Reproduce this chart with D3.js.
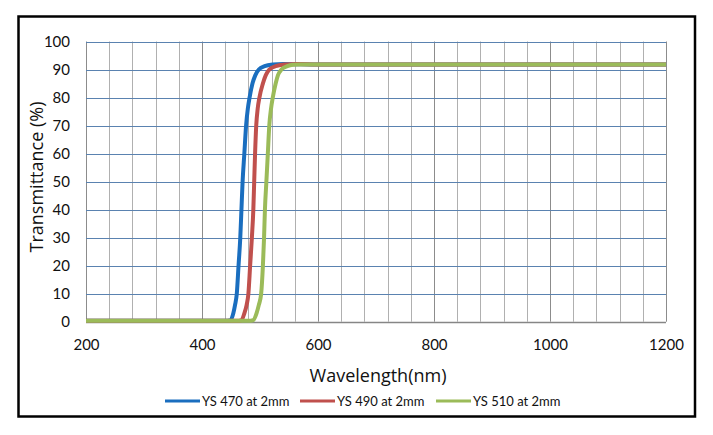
<!DOCTYPE html>
<html><head><meta charset="utf-8">
<script src="https://cdn.jsdelivr.net/npm/d3@7"></script>
<style>body{margin:0;background:#fff}svg{display:block}text{font-family:Lato,"Open Sans",sans-serif;fill:#111}</style>
</head><body><svg id="c" width="713" height="435"></svg>
<script>
const seriesNames = ["YS 470 at 2mm", "YS 490 at 2mm", "YS 510 at 2mm"];
const seriesColors = ["#1a6ebf", "#c0504d", "#9bbb59"];
const wl470 = [200, 440, 449, 454, 457, 460, 463, 466, 468, 470, 473, 476, 479, 482, 487, 492, 498, 508, 522, 540, 600, 800, 1000, 1200];
const t470  = [0.3, 0.3, 0.5, 3, 6, 10, 20, 30, 40, 50, 60, 70, 76, 80, 85, 88, 90, 91.2, 91.8, 92, 91.8, 91.8, 91.8, 91.8];
const wl490 = [200, 460, 468, 473, 477, 480, 483, 486, 488.5, 490, 491.5, 493.5, 496, 499, 505, 510, 516, 527, 543, 563, 600, 800, 1000, 1200];
const t490  = [0.3, 0.3, 0.5, 3, 6, 10, 20, 30, 40, 50, 60, 70, 76, 80, 85, 88, 90, 91.2, 91.8, 92, 91.8, 91.8, 91.8, 91.8];
const wl510 = [200, 480, 488, 494, 498, 502, 505, 507, 508.5, 511, 513.5, 516, 519, 522, 527, 531, 537, 547, 557, 569, 600, 800, 1000, 1200];
const t510  = [0.3, 0.3, 0.5, 3, 6, 10, 20, 30, 40, 50, 60, 70, 76, 80, 85, 88, 90, 91.2, 91.7, 91.8, 91.8, 91.8, 91.8, 91.8];
const xTicks = [200, 400, 600, 800, 1000, 1200];
const xGrid = d3.range(200, 1201, 40);
const yTicks = [0, 10, 20, 30, 40, 50, 60, 70, 80, 90, 100];

const svg = d3.select("#c");
svg.append("rect").attr("x", 18.5).attr("y", 16.5).attr("width", 676.5).attr("height", 400)
  .attr("fill", "#fff").attr("stroke", "#000").attr("stroke-width", 2.5);

const x = d3.scaleLinear().domain([200, 1200]).range([86, 666]);
const y = d3.scaleLinear().domain([0, 100]).range([321.7, 41.5]);

const g = svg.append("g");
g.selectAll(".vg").data(xGrid).join("line")
  .attr("x1", d => Math.round(x(d)) + 0.5).attr("x2", d => Math.round(x(d)) + 0.5)
  .attr("y1", y(100)).attr("y2", y(0))
  .attr("stroke", d => (d % 200 === 0) ? "#8c8c8c" : "#b0b0b0").attr("stroke-width", 1);
g.selectAll(".hg").data(yTicks.filter(d => d > 0)).join("line")
  .attr("x1", x(200)).attr("x2", x(1200))
  .attr("y1", d => Math.round(y(d)) + 0.5).attr("y2", d => Math.round(y(d)) + 0.5)
  .attr("stroke", "#5a82b0").attr("stroke-width", 1);
g.append("line").attr("x1", x(200)).attr("x2", x(1200))
  .attr("y1", Math.round(y(0)) + 0.5).attr("y2", Math.round(y(0)) + 0.5)
  .attr("stroke", "#868686").attr("stroke-width", 1.5);

const yAxis = d3.axisLeft(y).tickValues(yTicks).tickSize(0).tickPadding(16).tickFormat(d3.format("d"));
const ya = svg.append("g").attr("transform", `translate(${x(200)},0)`).call(yAxis);
ya.select(".domain").remove();
ya.selectAll("text").style("font-family", "Lato").style("font-size", "15px").attr("fill", "#111");

const xAxis = d3.axisBottom(x).tickValues(xTicks).tickSize(0).tickPadding(18).tickFormat(d3.format("d"));
const xa = svg.append("g").attr("transform", `translate(0,${y(0)})`).call(xAxis);
xa.select(".domain").remove();
xa.selectAll("text").style("font-family", "Lato").style("font-size", "15px").attr("fill", "#111");

svg.append("text").attr("x", 378).attr("y", 382).attr("text-anchor", "middle")
  .style("font-family", "Open Sans").style("font-size", "18px").text("Wavelength(nm)");
svg.append("text").attr("transform", "translate(43,177) rotate(-90)").attr("text-anchor", "middle")
  .style("font-family", "Open Sans").style("font-size", "18px").text("Transmittance (%)");

const line = d3.line().x(d => x(d[0])).y(d => y(d[1])).curve(d3.curveMonotoneX);
const series = [[wl470, t470], [wl490, t490], [wl510, t510]];
series.forEach((s, i) => {
  const pts = s[0].map((w, j) => [w, s[1][j]]);
  svg.append("path").datum(pts).attr("d", line).attr("fill", "none")
    .attr("stroke", seriesColors[i]).attr("stroke-width", 4).attr("stroke-linejoin", "round");
});

const legX = [165, 300, 436];
seriesNames.forEach((n, i) => {
  svg.append("line").attr("x1", legX[i]).attr("x2", legX[i] + 35).attr("y1", 401).attr("y2", 401)
    .attr("stroke", seriesColors[i]).attr("stroke-width", 3);
  svg.append("text").attr("x", legX[i] + 37).attr("y", 405.5).style("font-size", "13px").text(n);
});
</script></body></html>
